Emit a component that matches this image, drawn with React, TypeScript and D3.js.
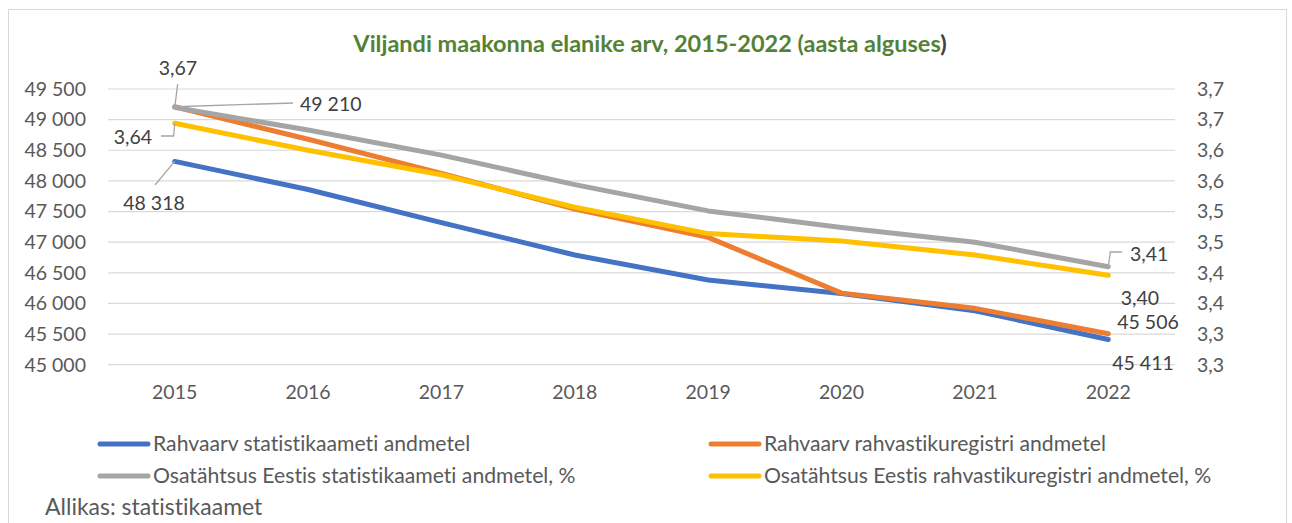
import React from "react";
import * as d3 from "d3";

const years = ["2015", "2016", "2017", "2018", "2019", "2020", "2021", "2022"];
const popStat = [48318, 47860, 47320, 46790, 46382, 46162, 45881, 45411];
const popReg = [49210, 48680, 48124, 47540, 47079, 46168, 45920, 45506];
const shareStat = [3.67, 3.633, 3.592, 3.544, 3.501, 3.474, 3.45, 3.41];
const shareReg = [3.644, 3.6, 3.56, 3.507, 3.464, 3.452, 3.429, 3.396];

const leftTicks = [45000, 45500, 46000, 46500, 47000, 47500, 48000, 48500, 49000, 49500];
const rightTicks = [3.25, 3.3, 3.35, 3.4, 3.45, 3.5, 3.55, 3.6, 3.65, 3.7];
const rightTickLabels = ["3,3", "3,3", "3,4", "3,4", "3,5", "3,5", "3,6", "3,6", "3,7", "3,7"];

const seriesNames = [
  "Rahvaarv statistikaameti andmetel",
  "Rahvaarv rahvastikuregistri andmetel",
  "Osatähtsus Eestis statistikaameti andmetel, %",
  "Osatähtsus Eestis rahvastikuregistri andmetel, %",
];
const title = "Viljandi maakonna elanike arv, 2015-2022 (aasta alguses";
const source = "Allikas: statistikaamet";

const FONT = "Lato, 'Open Sans', sans-serif";
const TXT = "#595959";
const COLORS = { blue: "#4472C4", orange: "#ED7D31", gray: "#A5A5A5", yellow: "#FFC000" };

const locale = d3.formatLocale({ thousands: "\u00a0", grouping: [3], decimal: ",", currency: ["", ""] });
const fmtInt = locale.format(",d");
const fmt2 = locale.format(".2f");

export default function App() {
  const W = 1292, H = 523;
  const plotL = 108, plotR = 1175, plotT = 89, plotB = 364.7;
  const x = d3.scaleBand<string>().domain(years).range([plotL, plotR]);
  const cx = (y: string) => (x(y) as number) + x.bandwidth() / 2;
  const yL = d3.scaleLinear().domain([45000, 49500]).range([plotB, plotT]);
  const yR = d3.scaleLinear().domain([3.25, 3.7]).range([plotB, plotT]);

  const lineL = d3.line<number>().x((_, i) => cx(years[i])).y((d) => yL(d));
  const lineR = d3.line<number>().x((_, i) => cx(years[i])).y((d) => yR(d));

  const series = [
    { d: lineL(popStat), c: COLORS.blue },
    { d: lineL(popReg), c: COLORS.orange },
    { d: lineR(shareStat), c: COLORS.gray },
    { d: lineR(shareReg), c: COLORS.yellow },
  ];

  const x0 = cx(years[0]);
  const xN = cx(years[years.length - 1]);
  const fs = 19.5;
  const fsLeg = 21.2;

  return (
    <svg width={W} height={H} style={{ display: "block", position: "absolute", left: 0, top: 0, fontVariantLigatures: "none" }} fontFamily={FONT}>
      <rect x={0} y={0} width={W} height={H} fill="#fff" />
      <rect x={8.5} y={9.5} width={1278} height={530} fill="#fff" stroke="#d9d9d9" strokeWidth={1} />
      <text x={650} y={52} textAnchor="middle" fontSize={23.5} fontWeight="bold" fill="#548235">
        {title}<tspan fill="#404040">)</tspan>
      </text>
      {leftTicks.map((t) => (
        <line key={"g" + t} x1={plotL} x2={plotR} y1={yL(t)} y2={yL(t)} stroke="#d9d9d9" strokeWidth={1.2} />
      ))}
      {leftTicks.map((t) => (
        <text key={"l" + t} x={86} y={yL(t)} dy="0.35em" textAnchor="end" fontSize={fs} fill={TXT}>
          {fmtInt(t)}
        </text>
      ))}
      {rightTicks.map((t, i) => (
        <text key={"r" + i} x={1197} y={yR(t)} dy="0.35em" textAnchor="start" fontSize={fs} fill={TXT}>
          {rightTickLabels[i]}
        </text>
      ))}
      {years.map((yr) => (
        <text key={yr} x={cx(yr)} y={392} dy="0.35em" textAnchor="middle" fontSize={fs} fill={TXT}>
          {yr}
        </text>
      ))}
      {series.map((s, i) => (
        <path key={i} d={s.d || ""} fill="none" stroke={s.c} strokeWidth={5} strokeLinejoin="round" strokeLinecap="round" />
      ))}
      <g stroke="#a6a6a6" strokeWidth={1.3} fill="none">
        <polyline points={`${x0},${yR(shareStat[0])} ${x0 + 3},${84}`} />
        <polyline points={`${x0},${yL(popReg[0])} ${293},${103}`} />
        <polyline points={`${x0},${yR(shareReg[0])} ${x0 - 1},${136} ${161},${136}`} />
        <polyline points={`${x0},${yL(popStat[0])} ${155},${185}`} />
        <polyline points={`${xN},${yR(shareStat[7])} ${xN + 2},${252} ${1122},${252}`} />
      </g>
      <g fontSize={fs} fill="#404040">
        <text x={178} y={68} dy="0.35em" textAnchor="middle">{fmt2(shareStat[0])}</text>
        <text x={300} y={104} dy="0.35em" textAnchor="start">{fmtInt(popReg[0])}</text>
        <text x={152} y={137} dy="0.35em" textAnchor="end">{fmt2(shareReg[0])}</text>
        <text x={154} y={203} dy="0.35em" textAnchor="middle">{fmtInt(popStat[0])}</text>
        <text x={1130} y={254} dy="0.35em" textAnchor="start">{fmt2(shareStat[7])}</text>
        <text x={1140} y={298} dy="0.35em" textAnchor="middle">{fmt2(shareReg[7])}</text>
        <text x={1148} y={322} dy="0.35em" textAnchor="middle">{fmtInt(popReg[7])}</text>
        <text x={1143} y={363} dy="0.35em" textAnchor="middle">{fmtInt(popStat[7])}</text>
      </g>
      {[
        { c: COLORS.blue, x: 100, y: 444, t: seriesNames[0] },
        { c: COLORS.orange, x: 711, y: 444, t: seriesNames[1] },
        { c: COLORS.gray, x: 100, y: 476, t: seriesNames[2] },
        { c: COLORS.yellow, x: 711, y: 476, t: seriesNames[3] },
      ].map((l, i) => (
        <g key={i}>
          <line x1={l.x} x2={l.x + 48} y1={l.y} y2={l.y} stroke={l.c} strokeWidth={5} strokeLinecap="round" />
          <text x={l.x + 53} y={l.y} dy="0.35em" fontSize={fsLeg} fill={TXT}>{l.t}</text>
        </g>
      ))}
      <text x={45} y={507} dy="0.35em" fontSize={23} fill={TXT}>{source}</text>
    </svg>
  );
}
